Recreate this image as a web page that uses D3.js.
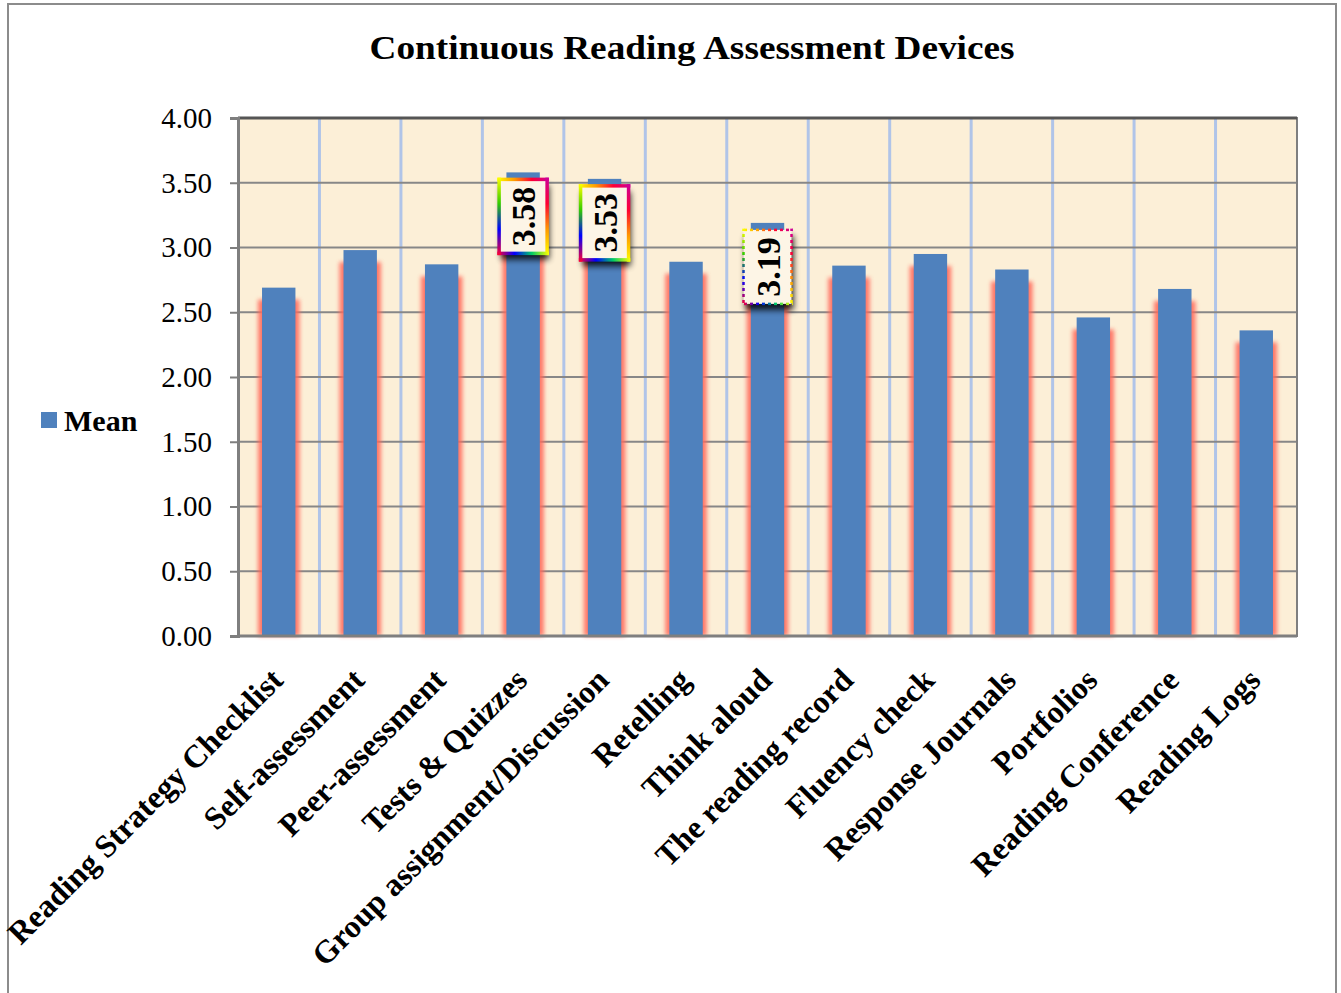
<!DOCTYPE html>
<html>
<head>
<meta charset="utf-8">
<title>Continuous Reading Assessment Devices</title>
<script src="https://cdn.jsdelivr.net/npm/d3@7"></script>
<style>
  body { margin: 0; background: #fff; }
  svg text { font-family: "Liberation Serif", "Times New Roman", serif; }
</style>
</head>
<body>
<svg id="chart" width="1341" height="993"></svg>
<script>
// chart data
var categories = ["Reading Strategy Checklist", "Self-assessment", "Peer-assessment",
  "Tests & Quizzes", "Group assignment/Discussion", "Retelling", "Think aloud",
  "The reading record", "Fluency check", "Response Journals", "Portfolios",
  "Reading Conference", "Reading Logs"];
var meanValues = [2.69, 2.98, 2.87, 3.58, 3.53, 2.89, 3.19, 2.86, 2.95, 2.83, 2.46, 2.68, 2.36];
var labelledBars = ["Tests & Quizzes", "Group assignment/Discussion", "Think aloud"];
var dashedLabels = ["Think aloud"];
var yTicks = [0, 0.5, 1, 1.5, 2, 2.5, 3, 3.5, 4];

var svg = d3.select("#chart");
var plotLeft = 238, plotRight = 1297, plotTop = 118, plotBottom = 636;

var x = d3.scaleBand().domain(categories).range([plotLeft, plotRight]).paddingInner(0.59).paddingOuter(0.295);
var y = d3.scaleLinear().domain([0, 4]).range([plotBottom, plotTop]);
var step = x.step();

var defs = svg.append("defs");
var glow = defs.append("filter").attr("id", "glow").attr("x", "-50%").attr("width", "200%");
glow.append("feGaussianBlur").attr("stdDeviation", 2);
var shadow = defs.append("filter").attr("id", "shadow").attr("x", "-30%").attr("y", "-30%").attr("width", "160%").attr("height", "170%");
shadow.append("feGaussianBlur").attr("stdDeviation", 3);

// rainbow edges for the data label boxes
function grad(id, stops, vertical) {
  var g = defs.append("linearGradient").attr("id", id)
    .attr("gradientUnits", "objectBoundingBox")
    .attr("x1", 0).attr("y1", 0).attr("x2", vertical ? 0 : 1).attr("y2", vertical ? 1 : 0);
  stops.forEach(function(c, i) {
    g.append("stop").attr("offset", i / (stops.length - 1)).attr("stop-color", c);
  });
}
grad("gTop", ["#ffff00", "#ff9900", "#ff0033", "#cc0099"], false);
grad("gRight", ["#cc0099", "#ff0033", "#ff9900", "#ffff00"], true);
grad("gBottom", ["#ff0033", "#0000ff", "#00cc66", "#ffff00"], false);
grad("gLeft", ["#ffff00", "#33cc00", "#0000ff", "#ff0033"], true);

// outer frame
svg.append("rect").attr("x", 8).attr("y", 4).attr("width", 1328).attr("height", 1000)
  .attr("fill", "#fff").attr("stroke", "#8c8c8c").attr("stroke-width", 2);

// title
svg.append("text").attr("x", 692).attr("y", 59).attr("text-anchor", "middle")
  .attr("font-size", 33).attr("font-weight", "bold")
  .attr("textLength", 645).attr("lengthAdjust", "spacingAndGlyphs")
  .text("Continuous Reading Assessment Devices");

// plot area
svg.append("rect").attr("x", plotLeft).attr("y", plotTop).attr("width", plotRight - plotLeft).attr("height", plotBottom - plotTop)
  .attr("fill", "#fcefd7");

// vertical gridlines at category boundaries
svg.append("g").selectAll("line").data(categories.slice(1)).join("line")
  .attr("x1", function(d) { return x(d) - x.paddingInner() * step / 2; })
  .attr("x2", function(d) { return x(d) - x.paddingInner() * step / 2; })
  .attr("y1", plotTop).attr("y2", plotBottom)
  .attr("stroke", "#b0c4e8").attr("stroke-width", 3);

// horizontal gridlines
svg.append("g").selectAll("line").data(yTicks.slice(1)).join("line")
  .attr("x1", plotLeft).attr("x2", plotRight)
  .attr("y1", function(d) { return y(d); }).attr("y2", function(d) { return y(d); })
  .attr("stroke", "#878787").attr("stroke-width", 2);

// plot border
svg.append("rect").attr("x", plotLeft).attr("y", plotTop).attr("width", plotRight - plotLeft).attr("height", plotBottom - plotTop)
  .attr("fill", "none").attr("stroke", "#7f7f7f").attr("stroke-width", 2);
svg.append("line").attr("x1", plotLeft).attr("x2", plotRight).attr("y1", plotTop).attr("y2", plotTop)
  .attr("stroke", "#555").attr("stroke-width", 3);

// y axis
var yAxis = d3.axisLeft(y).tickValues(yTicks).tickFormat(d3.format(".2f")).tickSize(8).tickPadding(18);
var ya = svg.append("g").attr("transform", "translate(" + plotLeft + ",0)").call(yAxis);
ya.select(".domain").attr("stroke", "#7f7f7f").attr("stroke-width", 3);
ya.selectAll(".tick line").attr("stroke", "#7f7f7f").attr("stroke-width", 2);
ya.selectAll(".tick text").attr("font-size", 29).attr("fill", "#000")
  .attr("font-family", "Liberation Serif, serif").attr("dy", "0.32em");

// red glow beside bars
svg.append("g").selectAll("rect").data(meanValues).join("rect")
  .attr("x", function(d, i) { return x(categories[i]) - 4; })
  .attr("y", function(d) { return y(d) + 12; })
  .attr("width", x.bandwidth() + 8)
  .attr("height", function(d) { return plotBottom - y(d) - 12; })
  .attr("fill", "#ff6a5c").attr("opacity", 0.9).attr("filter", "url(#glow)");

// bars
svg.append("g").selectAll("rect").data(meanValues).join("rect")
  .attr("x", function(d, i) { return x(categories[i]); })
  .attr("y", function(d) { return y(d); })
  .attr("width", x.bandwidth())
  .attr("height", function(d) { return plotBottom - y(d); })
  .attr("fill", "#4f81bd");

svg.append("line").attr("x1", plotLeft).attr("x2", plotRight).attr("y1", plotBottom).attr("y2", plotBottom)
  .attr("stroke", "#7f7f7f").attr("stroke-width", 3);

// dash masks for the dotted label border
function dashMask(id, horiz) {
  var p = defs.append("pattern").attr("id", id + "P").attr("patternUnits", "userSpaceOnUse")
    .attr("width", horiz ? 6 : 10).attr("height", horiz ? 10 : 6);
  p.append("rect").attr("width", horiz ? 3 : 10).attr("height", horiz ? 10 : 3).attr("fill", "#fff");
  defs.append("mask").attr("id", id).attr("maskUnits", "userSpaceOnUse")
    .attr("x", 0).attr("y", 0).attr("width", 1341).attr("height", 993)
    .append("rect").attr("width", 1341).attr("height", 993).attr("fill", "url(#" + id + "P)");
}
dashMask("dashH", true);
dashMask("dashV", false);

// data labels
categories.forEach(function(c, i) {
  if (labelledBars.indexOf(c) < 0) return;
  var v = meanValues[i];
  var cx = x(c) + x.bandwidth() / 2;
  var bw = 48, bh = 74;
  var bx = cx - bw / 2, by = y(v) + 7;
  var dash = dashedLabels.indexOf(c) >= 0;
  var g = svg.append("g");
  g.append("rect").attr("x", bx + 2).attr("y", by + 6).attr("width", bw).attr("height", bh)
    .attr("fill", "#000").attr("opacity", 0.85).attr("filter", "url(#shadow)");
  g.append("rect").attr("x", bx).attr("y", by).attr("width", bw).attr("height", bh).attr("fill", "#fdf5e6");
  var sw = dash ? 2.5 : 3.5;
  // each edge is a thin filled rect so the gradient has a real bounding box
  [["gTop", bx, by, bw, 0], ["gRight", bx + bw, by, 0, bh],
   ["gBottom", bx, by + bh, bw, 0], ["gLeft", bx, by, 0, bh]].forEach(function(e) {
    var horiz = e[4] === 0;
    g.append("rect")
      .attr("x", e[1] - sw / 2)
      .attr("y", e[2] - sw / 2)
      .attr("width", horiz ? e[3] + sw : sw)
      .attr("height", horiz ? sw : e[4] + sw)
      .attr("fill", "url(#" + e[0] + ")")
      .attr("mask", dash ? "url(#" + (horiz ? "dashH" : "dashV") + ")" : null);
  });
  g.append("text")
    .attr("transform", "translate(" + (cx + 12) + "," + (by + bh / 2) + ") rotate(-90)")
    .attr("text-anchor", "middle").attr("font-size", 34).attr("font-weight", "bold")
    .text(v.toFixed(2));
});

// x labels
svg.append("g").selectAll("text").data(categories).join("text")
  .attr("transform", function(d) {
    return "translate(" + (x(d) + x.bandwidth() / 2 + 6) + ",682) rotate(-45)";
  })
  .attr("text-anchor", "end").attr("font-size", 32).attr("font-weight", "bold")
  .text(function(d) { return d; });

// legend
svg.append("rect").attr("x", 41).attr("y", 412).attr("width", 16).attr("height", 16).attr("fill", "#4f81bd");
svg.append("text").attr("x", 64).attr("y", 431).attr("font-size", 30).attr("font-weight", "bold").text("Mean");
</script>
</body>
</html>
